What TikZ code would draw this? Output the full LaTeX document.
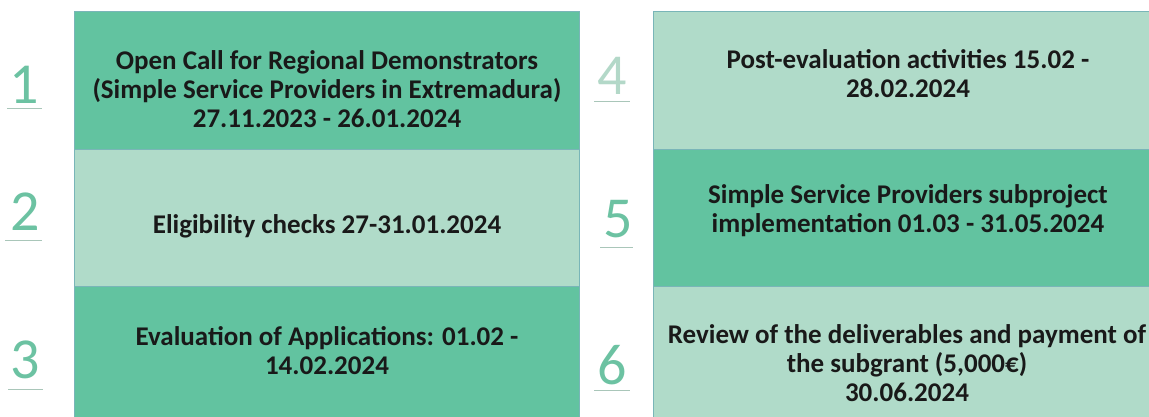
\documentclass[tikz,border=0pt]{standalone}
\usepackage{fontspec}
\setmainfont{Carlito}
\definecolor{dkg}{HTML}{62C3A0}
\definecolor{ltg}{HTML}{B0DBC9}
\definecolor{edge}{HTML}{79B5B8}
\definecolor{numg}{HTML}{6CC2A2}
\definecolor{numl}{HTML}{B3D8C8}
\begin{document}
\begin{tikzpicture}[x=1pt,y=-1pt,
  box/.style={draw=edge,line width=0.8pt,anchor=north west,inner sep=0pt,
    font=\fontsize{27}{29}\selectfont\bfseries,align=center,text=black!90},
  num/.style={font=\fontsize{58}{58}\selectfont,text=numg,inner sep=0pt},
  uline/.style={draw=numl!80!gray,line width=1pt}]
\useasboundingbox (0,0) rectangle (1149,416);
% left column
\node[box,fill=dkg,minimum width=505pt,minimum height=138pt] (b1) at (74,11) {};
\node[box,fill=ltg,minimum width=505pt,minimum height=137pt] (b2) at (74,149) {};
\node[box,fill=dkg,minimum width=505pt,minimum height=135pt] (b3) at (74,286) {};
% right column
\node[box,fill=ltg,minimum width=500pt,minimum height=138pt] (b4) at (653,11) {};
\node[box,fill=dkg,minimum width=500pt,minimum height=137pt] (b5) at (653,149) {};
\node[box,fill=ltg,minimum width=500pt,minimum height=135pt] (b6) at (653,286) {};
% texts
\node[box,draw=none,anchor=center] (t1) at (327,89) {Open Call for Regional Demonstrators\\(Simple Service Providers in Extremadura)\\27.11.2023 - 26.01.2024};
\node[box,draw=none,anchor=center] (t2) at (327,226) {Eligibility checks 27-31.01.2024};
\node[box,draw=none,anchor=center] (t3) at (327,351) {Evaluation of Applications: 01.02 -\\14.02.2024};
\node[box,draw=none,anchor=center] (t4) at (908,74) {Post-evaluation activities 15.02 -\\28.02.2024};
\node[box,draw=none,anchor=center] (t5) at (908,211) {Simple Service Providers subproject\\implementation 01.03 - 31.05.2024};
\node[box,draw=none,anchor=center] (t6) at (907,363) {Review of the deliverables and payment of\\the subgrant (5,000€)\\30.06.2024};
% numbers
\node[num] (n1) at (24,85) {1};
\node[num] (n2) at (25,212) {2};
\node[num] (n3) at (25,360) {3};
\node[num,text=numl] (n4) at (612,76) {4};
\node[num] (n5) at (618,219) {5};
\node[num] (n6) at (612,365) {6};
\draw[uline] (7,108) -- (42,108);
\draw[uline] (5,240) -- (42,240);
\draw[uline] (8,389) -- (43,389);
\draw[uline] (594,101) -- (630,101);
\draw[uline] (600,247) -- (633,247);
\draw[uline] (594,390) -- (630,390);
\end{tikzpicture}
\end{document}
